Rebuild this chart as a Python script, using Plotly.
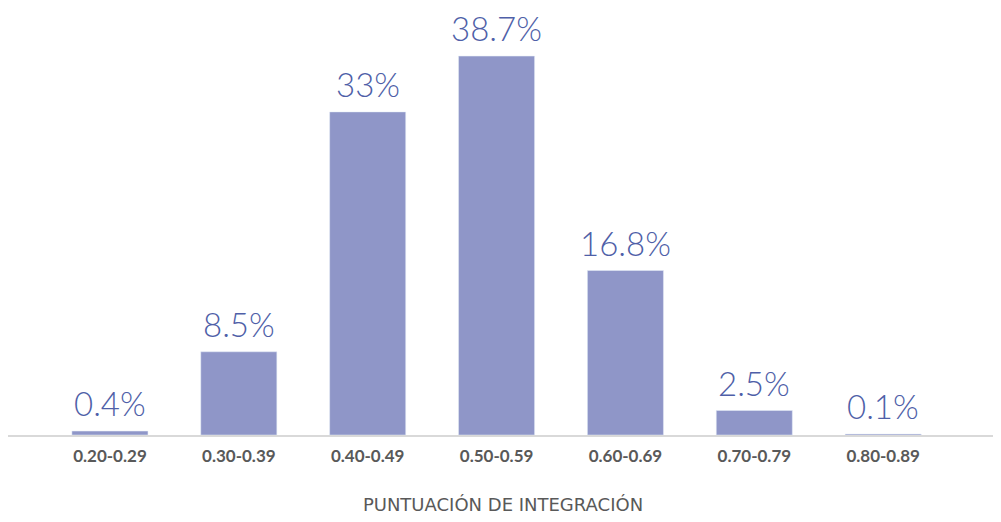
import plotly.graph_objects as go

categorias = ["0.20-0.29", "0.30-0.39", "0.40-0.49", "0.50-0.59", "0.60-0.69", "0.70-0.79", "0.80-0.89"]
porcentajes = [0.4, 8.5, 33, 38.7, 16.8, 2.5, 0.1]
etiquetas = ["0.4%", "8.5%", "33%", "38.7%", "16.8%", "2.5%", "0.1%"]

COLOR_BARRA = "#8f96c8"
COLOR_TEXTO = "#4f5fa8"
COLOR_GRIS = "#595959"

x = list(range(len(categorias)))

fig = go.Figure()
fig.add_trace(go.Bar(
    x=x,
    y=porcentajes,
    width=0.59,
    marker_color=COLOR_BARRA,
    hoverinfo="skip",
))

for xi, v, t in zip(x, porcentajes, etiquetas):
    fig.add_annotation(
        x=xi, y=v, text=t, showarrow=False,
        yanchor="bottom", yshift=7, borderpad=0,
        font=dict(family="Lato", size=33, color=COLOR_TEXTO, weight=300),
    )

fig.update_layout(
    width=1001,
    height=522,
    plot_bgcolor="white",
    paper_bgcolor="white",
    showlegend=False,
    margin=dict(l=0, r=11, t=20, b=95),
    font=dict(family="Lato", color=COLOR_GRIS),
    xaxis=dict(
        range=[-0.791, 6.891],
        tickvals=x,
        ticktext=["<b>" + c + "</b>" for c in categorias],
        tickfont=dict(size=17, color=COLOR_GRIS),
        ticklabelstandoff=5,
        showgrid=False,
        zeroline=False,
        showline=True,
        linecolor="#d9d9d9",
        linewidth=2,
        ticks="",
        fixedrange=True,
        title=dict(
            text="PUNTUACIÓN DE INTEGRACIÓN",
            font=dict(family="DejaVu Sans", size=18, color=COLOR_GRIS),
            standoff=33,
        ),
    ),
    yaxis=dict(
        range=[0, 41.57],
        visible=False,
        showgrid=False,
        zeroline=False,
        fixedrange=True,
    ),
)

fig.write_html("out.html")
